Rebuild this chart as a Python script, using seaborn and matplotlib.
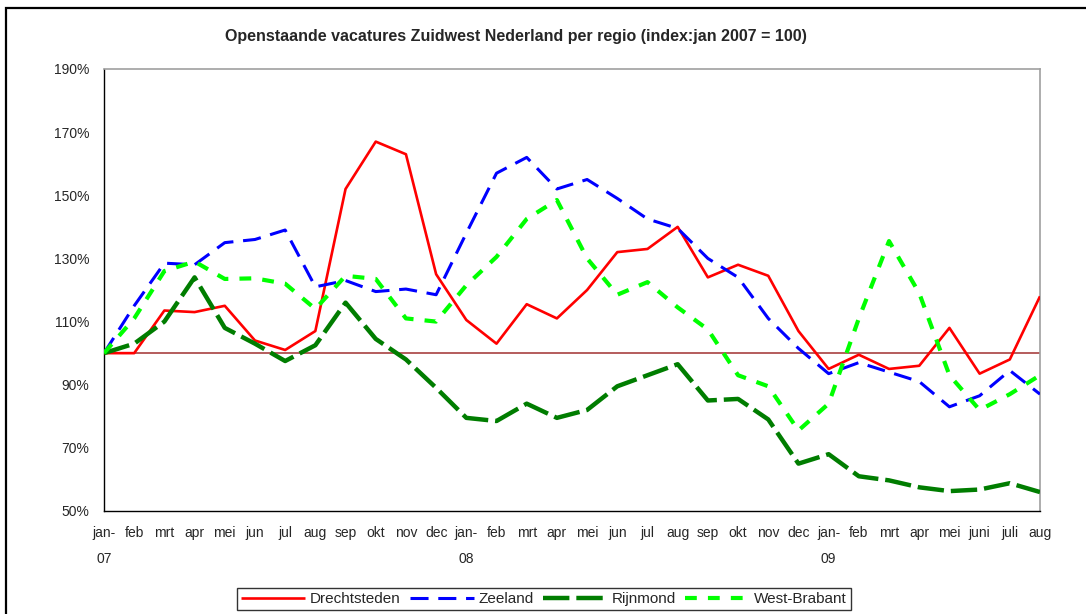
import pandas as pd
import seaborn as sns
import matplotlib.pyplot as plt
from matplotlib.patches import Rectangle

# month labels jan-07 .. aug-09
months = ["jan-\n07", "feb", "mrt", "apr", "mei", "jun", "jul", "aug", "sep", "okt", "nov", "dec",
          "jan-\n08", "feb", "mrt", "apr", "mei", "jun", "jul", "aug", "sep", "okt", "nov", "dec",
          "jan-\n09", "feb", "mrt", "apr", "mei", "juni", "juli", "aug"]

drechtsteden = [100, 100, 113.5, 113, 115, 104, 101, 107, 152, 167, 163, 125,
                110.5, 103, 115.5, 111, 120, 132, 133, 140, 124, 128, 124.5, 107,
                95, 99.5, 95, 96, 108, 93.5, 98, 118]
zeeland = [100, 115, 128.5, 128, 135, 136, 139, 121, 123, 119.5, 120.3, 118.5,
           138, 157, 162, 152, 155, 149, 142.5, 139.5, 130, 124, 111, 101.5,
           93.5, 97, 94, 91, 83, 86.5, 94.5, 87]
rijnmond = [100, 103, 110, 124, 108, 103, 97.5, 102.5, 116, 104.5, 98, 89,
            79.5, 78.5, 84, 79.5, 82, 89.5, 93, 96.5, 85, 85.5, 79, 65,
            68, 61, 59.7, 57.5, 56.3, 56.8, 58.8, 56]
west_brabant = [100, 111, 126, 129, 123.5, 123.7, 122, 114, 124.5, 123.5, 111, 110,
                121.5, 130.5, 142.5, 148.5, 130, 118.5, 122.5, 114.5, 107.5, 93, 89.5, 75.5,
                84, 111, 135.5, 119, 93, 82, 87, 93]

yticks = [50, 70, 90, 110, 130, 150, 170, 190]

df = pd.DataFrame({"maand": range(len(months)),
                   "Drechtsteden": drechtsteden,
                   "Zeeland": zeeland,
                   "Rijnmond": rijnmond,
                   "West-Brabant": west_brabant})
long_df = df.melt(id_vars="maand", var_name="regio", value_name="index")

sns.set_style("white")
plt.rcParams["font.family"] = ["Liberation Sans", "DejaVu Sans"]
plt.rcParams["lines.scale_dashes"] = False

fig = plt.figure(figsize=(10.86, 6.14), dpi=100)
ax = fig.add_axes([104 / 1086, 1 - 511 / 614, 936 / 1086, 442 / 614])

# chart area frame (cropped at right and bottom)
fig.patches.append(Rectangle((6 / 1086, -0.2), 1.2, 1.2 - 8 / 614,
                             transform=fig.transFigure, fill=False,
                             edgecolor="black", linewidth=1.6, clip_on=False))

styles = {
    "Drechtsteden": dict(color="#ff0000", lw=1.9, dashes=None),
    "Zeeland": dict(color="#0000ff", lw=2.2, dashes=(13, 7)),
    "Rijnmond": dict(color="#007d00", lw=3.2, dashes=(19, 5)),
    "West-Brabant": dict(color="#00ff00", lw=3.0, dashes=(8.5, 8)),
}

ax.axhline(100, color="#a03030", lw=1.1, zorder=1)

for regio, st in styles.items():
    sub = long_df[long_df["regio"] == regio]
    sns.lineplot(data=sub, x="maand", y="index", ax=ax, color=st["color"],
                 linewidth=st["lw"], label=regio, zorder=3)
    line = ax.lines[-1]
    if st["dashes"] is not None:
        line.set_dashes(st["dashes"])
    line.set_solid_capstyle("butt")
    line.set_dash_capstyle("butt")

ax.set_xlim(0, len(months) - 1)
ax.set_ylim(50, 190)
ax.set_xticks(range(len(months)))
ax.set_xticklabels(months, fontsize=10, linespacing=2.15)
ax.set_yticks(yticks)
ax.set_yticklabels([f"{v}%" for v in yticks], fontsize=10)
ax.tick_params(axis="both", direction="inout", length=7, width=0.9, color="black", pad=7)
ax.set_xlabel("")
ax.set_ylabel("")

for side in ["top", "right"]:
    ax.spines[side].set_color("#a0a0a0")
    ax.spines[side].set_linewidth(1.2)
for side in ["left", "bottom"]:
    ax.spines[side].set_color("black")
    ax.spines[side].set_linewidth(1.0)

fig.text(516 / 1086, 1 - 37 / 614,
         "Openstaande vacatures Zuidwest Nederland per regio (index:jan 2007 = 100)",
         ha="center", va="center", fontsize=11.5, fontweight="bold")

handles, labels = ax.get_legend_handles_labels()
ax.legend_.remove()
leg = fig.legend(handles, labels, loc="lower center", ncol=4,
                 bbox_to_anchor=(544 / 1086, 4 / 614), frameon=True, fancybox=False,
                 edgecolor="black", fontsize=11, handlelength=4.2, handletextpad=0.3,
                 columnspacing=0.6, borderpad=0.25, borderaxespad=0)
leg.get_frame().set_linewidth(1.0)

fig.savefig("out.png", dpi=100)
